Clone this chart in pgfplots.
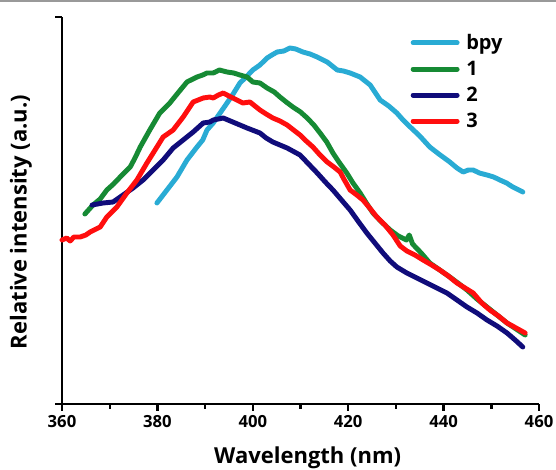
\documentclass[border=0pt]{standalone}
\usepackage{pgfplots}
\pgfplotsset{compat=1.18}
\usepackage{fontspec}
\setmainfont{Open Sans}
\definecolor{cbpy}{RGB}{41,171,212}
\definecolor{cone}{RGB}{22,138,52}
\definecolor{ctwo}{RGB}{16,12,122}
\definecolor{cthree}{RGB}{255,14,14}
\begin{document}
\begin{tikzpicture}[x=1pt,y=1pt]
\useasboundingbox (-46.5pt,-48.75pt) rectangle (370.5pt,303pt);
\draw[line width=1.5pt,gray!80] (-46.5pt,302.2pt) -- (370.5pt,302.2pt);
\begin{axis}[
  at={(0,0)}, anchor=origin,
  scale only axis, width=357.75pt, height=290.25pt,
  xmin=360, xmax=460, ymin=0, ymax=387,
  axis x line*=bottom, axis y line*=left,
  axis line style={line width=2pt, -},
  xtick={360,380,...,460}, minor xtick={370,390,...,450},
  ytick={0,387}, yticklabels={},
  tick align=outside, major tick length=5pt, minor tick length=3.5pt,
  every tick/.style={line width=1.8pt, black},
  tick label style={font=\fontsize{12.5}{14}\selectfont\bfseries},
  /pgf/number format/assume math mode=true,
  /pgf/number format/1000 sep={},
  xlabel={Wavelength (nm)}, ylabel={Relative intensity (a.u.)},
  label style={font=\fontsize{16.5}{18}\selectfont\bfseries},
  xlabel style={at={(axis description cs:0.515,-0.14)}, anchor=center},
  ylabel style={at={(axis description cs:-0.086,0.47)}, anchor=center},
  clip=false,
  legend style={at={(axis description cs:0.722,0.97)}, anchor=north west, draw=none, fill=none,
    font=\fontsize{15}{17}\selectfont\bfseries, row sep=3.2pt,
    /tikz/every odd column/.append style={column sep=3pt}},
  legend cell align=left,
  legend image code/.code={\draw[#1] (0pt,0pt) -- (33pt,0pt);},
  every axis plot/.append style={line width=3.7pt, line join=round, line cap=round},
]
\addplot[cbpy] coordinates {
(379.9,201)(382.0,214)(384.1,227)(386.2,244)(388.3,257)(389.5,264)(390.4,274)(391.7,281)(393.0,290)(394.6,301)(396.0,311)(397.3,321)(398.6,327)(400.0,334)(401.5,339)(403.0,346)(404.0,349)(405.1,352)(406.5,353)(407.8,356)(409.0,355)(410.5,352)(412.0,350)(413.5,347)(415.6,342)(417.7,334)(419.0,333)(420.4,331)(422.5,327)(424.6,319)(426.7,304)(428.5,298)(430.2,291)(431.5,284)(433.0,277)(435.0,268)(437.1,257)(439.0,250)(441.3,242)(442.8,236)(444.1,232)(445.2,234)(446.2,234)(447.5,231)(449.1,229)(450.5,227)(451.8,224)(453.2,221)(454.5,217)(456.6,212)
};
\addlegendentry{bpy}
\addplot[cone] coordinates {
(364.8,190)(366.5,199)(368.0,205)(369.4,214)(370.8,220)(372.2,227)(374.3,237)(375.3,246)(376.4,257)(378.4,274)(380.5,291)(382.6,301)(384.3,311)(386.2,322)(388.3,327)(389.5,329)(390.4,331)(391.7,331)(393.0,334)(394.6,332)(396.0,331)(397.3,329)(398.8,327)(400.0,322)(401.5,321)(403.0,316)(404.5,312)(405.7,307)(407.0,302)(408.4,297)(410.0,292)(411.4,286)(412.8,279)(414.1,271)(415.5,262)(416.8,251)(418.2,241)(419.7,231)(421.0,221)(422.5,211)(423.8,201)(425.2,191)(427.0,182)(428.8,174)(430.5,168)(432.2,164)(432.8,169)(433.5,160)(435.3,151)(437.1,141)(439.2,134)(441.3,127)(443.0,121)(444.9,114)(447.0,105)(449.1,97)(451.2,89)(453.3,81)(455.2,75)(457.1,69)
};
\addlegendentry{1}
\addplot[ctwo] coordinates {
(366.3,199)(368.6,201)(370.7,202)(372.8,209)(374.9,216)(377.0,224)(379.1,234)(381.2,244)(383.3,256)(385.4,264)(387.5,272)(389.6,281)(391.0,282)(391.7,284)(393.8,286)(395.8,282)(397.3,279)(398.8,276)(401.5,271)(402.8,266)(404.2,262)(405.7,259)(407.2,256)(409.9,249)(411.7,240)(413.5,231)(415.2,222)(416.8,214)(418.6,204)(420.4,194)(422.2,182)(423.9,171)(425.6,161)(427.3,151)(428.8,143)(430.2,137)(432.3,131)(434.4,126)(436.5,121)(438.6,116)(440.7,111)(442.8,104)(444.9,97)(447.0,91)(449.1,84)(451.2,78)(453.3,71)(455.0,64)(456.6,57)
};
\addlegendentry{2}
\addplot[cthree] coordinates {
(360.0,164)(361.0,166)(361.7,163)(362.5,167)(363.8,167)(365.0,169)(365.9,172)(368.0,177)(369.4,187)(371.5,197)(373.6,211)(375.7,224)(377.8,241)(379.9,257)(381.2,267)(383.3,274)(385.4,287)(387.5,302)(389.6,306)(391.0,307)(391.7,306)(392.8,309)(393.8,311)(395.8,306)(397.9,301)(399.4,302)(401.5,294)(402.8,290)(404.2,286)(405.7,283)(407.2,279)(409.9,269)(411.2,263)(412.6,257)(414.1,249)(415.6,242)(417.0,237)(418.3,232)(419.2,224)(420.4,214)(421.8,209)(423.1,204)(424.5,196)(426.0,187)(427.7,179)(429.4,169)(430.9,158)(432.3,153)(434.0,149)(435.7,144)(437.5,139)(439.2,134)(441.0,128)(442.8,121)(444.5,116)(446.2,111)(448.0,101)(449.7,94)(451.5,88)(453.3,81)(455.2,76)(457.1,71)
};
\addlegendentry{3}
\end{axis}
\end{tikzpicture}
\end{document}
